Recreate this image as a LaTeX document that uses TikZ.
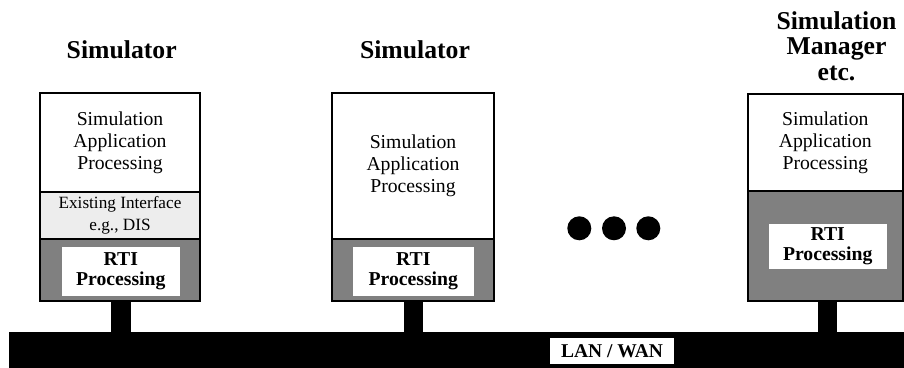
\documentclass[tikz,border=0pt]{standalone}
\usepackage{fontspec}
\setmainfont{Liberation Serif}
\definecolor{rtigray}{HTML}{808080}
\definecolor{ifcgray}{HTML}{EDEDED}
\begin{document}
\begin{tikzpicture}[x=0.5pt,y=-0.5pt,
  layer/.style={draw=black,line width=1pt,minimum width=80pt,inner sep=0pt,align=center,
    font=\fontsize{9.85}{11}\selectfont},
  rtibox/.style={fill=white,minimum width=59pt,minimum height=24.5pt,inner sep=0pt,align=center,
    font=\fontsize{9.85}{10}\selectfont\bfseries},
  title/.style={anchor=north,inner sep=0pt,align=center,font=\fontsize{12.85}{12.7}\selectfont\bfseries},
  stem/.style={line width=9.75pt}]
\useasboundingbox (0,0) rectangle (904,368);
% LAN / WAN bus
\node[fill=black,minimum width=447.7pt,minimum height=18pt,inner sep=0pt] (bus) at (456.35,350) {};
\node[fill=white,minimum width=62pt,minimum height=13pt,inner sep=0pt,
  font=\fontsize{9.75}{10}\selectfont\bfseries] (lan) at (612,351.3) {LAN / WAN};
% first simulator
\node[title] (t1) at (121.7,40) {Simulator};
\node[layer,minimum height=49.35pt] (sim1) at (120,142.7) {Simulation\\Application\\Processing};
\node[layer,fill=ifcgray,minimum height=23.5pt,font=\fontsize{8.6}{10.85}\selectfont] (ifc1) at (120,215.5) {Existing Interface\\e.g., DIS};
\node[layer,fill=rtigray,minimum height=30.85pt] (rti1) at (120,270) {};
\node[rtibox] (proc1) at (120.8,271.2) {RTI\\Processing};
% second simulator
\node[title] (t2) at (415,40) {Simulator};
\node[layer,minimum width=80.8pt,minimum height=72.85pt] (sim2) at (413,166.2) {Simulation\\Application\\Processing};
\node[layer,fill=rtigray,minimum width=80.8pt,minimum height=30.85pt] (rti2) at (413,270) {};
\node[rtibox,minimum width=60.7pt] (proc2) at (413.3,271.2) {RTI\\Processing};
% manager
\node[title] (t3) at (836.5,11) {Simulation\\Manager\\etc.};
\node[layer,minimum width=77.7pt,minimum height=48.35pt] (sim3) at (825.3,142.7) {Simulation\\Application\\Processing};
\node[layer,fill=rtigray,minimum width=77.7pt,minimum height=54.85pt] (rti3) at (825.3,245.8) {};
\node[rtibox,minimum height=22.7pt] (proc3) at (827.7,246.7) {RTI\\Processing};
% stems down to the bus
\foreach \n in {1,2,3}
  \draw[stem] (proc\n.south |- rti\n.south) -- (proc\n.south |- bus.north);
% dots
\fill[black] \foreach \x in {579.3,614,648.3} {(\x,228.3) circle (6pt)};
\end{tikzpicture}
\end{document}
